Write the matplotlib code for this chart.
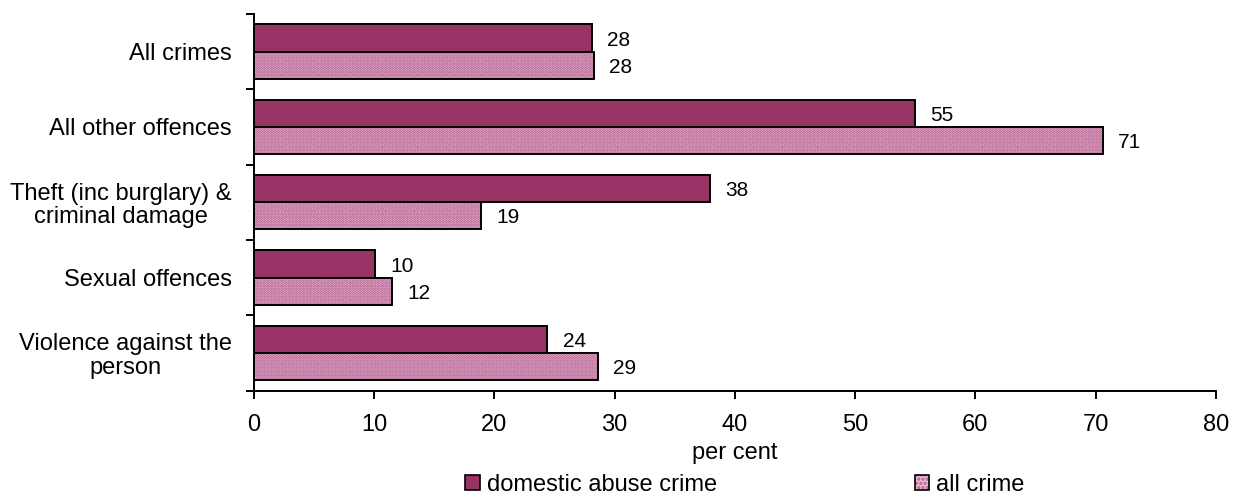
import matplotlib
matplotlib.use("Agg")
import matplotlib.pyplot as plt
from matplotlib.patches import Patch
import numpy as np

plt.rcParams['font.family'] = ['Liberation Sans', 'DejaVu Sans']
plt.rcParams['hatch.linewidth'] = 1.5

# data, top to bottom
categories = ["All crimes", "All other offences", "Theft (inc burglary) &\ncriminal damage",
              "Sexual offences", "Violence against the\nperson"]
domestic = [28.1, 55.0, 37.9, 10.1, 24.4]
all_crime = [28.3, 70.6, 18.9, 11.5, 28.6]
domestic_labels = ["28", "55", "38", "10", "24"]
all_crime_labels = ["28", "71", "19", "12", "29"]
xticks = [0, 10, 20, 30, 40, 50, 60, 70, 80]

dark = "#993366"
light = "#e6b9d1"
hatch_col = "#b0588a"

fig = plt.figure(figsize=(12.45, 4.97), dpi=100)
ax = fig.add_axes([0.204, 0.214, 0.7725, 0.758])

y = np.arange(len(categories))
h = 0.36

ax.barh(y - h/2, domestic, height=h, color=dark, edgecolor="black", linewidth=1.4)
# hatched bar in two passes so the hatch stays pink and the outline black
ax.barh(y + h/2, all_crime, height=h, color=light, edgecolor=hatch_col, hatch="......", linewidth=0)
ax.barh(y + h/2, all_crime, height=h, fill=False, edgecolor="black", linewidth=1.4)

for i in range(len(categories)):
    ax.annotate(domestic_labels[i], (domestic[i], y[i] - h/2), xytext=(11, 0),
                textcoords="offset points", ha="left", va="center_baseline", fontsize=15)
    ax.annotate(all_crime_labels[i], (all_crime[i], y[i] + h/2), xytext=(11, 0),
                textcoords="offset points", ha="left", va="center_baseline", fontsize=15)

ax.set_ylim(len(categories) - 0.5, -0.5)
ax.set_xlim(0, 80)
ax.set_xticks(xticks)
ax.set_xticklabels([str(t) for t in xticks], fontsize=17)
ax.set_yticks(y)
ax.set_yticklabels(categories, fontsize=17, multialignment="center", linespacing=1.1)
ax.set_yticks(np.arange(-0.5, len(categories)), minor=True)
ax.tick_params(axis="y", which="major", length=0, pad=16)
ax.tick_params(axis="y", which="minor", length=6, width=1.4, direction="out")
ax.tick_params(axis="x", length=6, width=1.4, direction="out", pad=11)
ax.set_xlabel("per cent", fontsize=17, labelpad=4)

for s in ["top", "right"]:
    ax.spines[s].set_visible(False)
for s in ["left", "bottom"]:
    ax.spines[s].set_linewidth(1.4)

h_dark = Patch(facecolor=dark, edgecolor="black", linewidth=1.2)
h_light = (Patch(facecolor=light, edgecolor=hatch_col, hatch="....", linewidth=0),
           Patch(fill=False, edgecolor="black", linewidth=1.2))
fig.legend([h_dark, h_light], ["domestic abuse crime", "all crime"], loc="center",
           bbox_to_anchor=(0.5985, 0.024), ncol=2, frameon=False, fontsize=17,
           handlelength=0.6, handleheight=0.6, handletextpad=0.3, columnspacing=8.4)

fig.savefig("out.png", dpi=100)
